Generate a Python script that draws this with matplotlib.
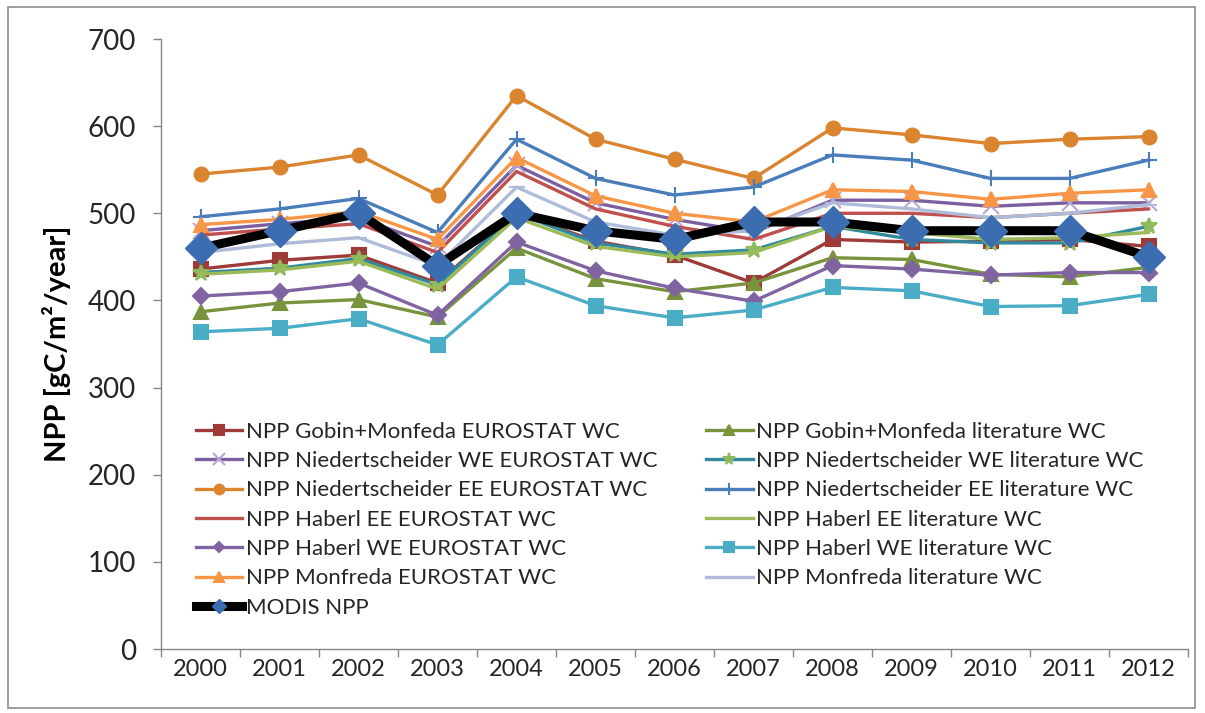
import numpy as np
import matplotlib
matplotlib.use('Agg')
import matplotlib.pyplot as plt
from matplotlib.patches import Rectangle

plt.rcParams['font.family'] = ['Lato', 'DejaVu Sans']

years = ['2000', '2001', '2002', '2003', '2004', '2005', '2006',
         '2007', '2008', '2009', '2010', '2011', '2012']

gobin_eurostat = [436, 446, 452, 420, 500, 468, 452, 420, 470, 467, 468, 470, 462]
gobin_lit = [387, 397, 401, 381, 460, 425, 410, 420, 449, 447, 430, 427, 438]
nied_we_eurostat = [480, 488, 495, 462, 555, 512, 493, 478, 515, 515, 508, 512, 512]
nied_we_lit = [432, 437, 448, 418, 500, 466, 453, 458, 485, 470, 466, 466, 485]
nied_ee_eurostat = [545, 553, 567, 521, 635, 585, 562, 540, 598, 590, 580, 585, 588]
nied_ee_lit = [496, 505, 517, 478, 585, 540, 521, 530, 567, 561, 540, 540, 561]
haberl_ee_eurostat = [475, 482, 488, 455, 548, 505, 485, 470, 500, 500, 495, 500, 505]
haberl_ee_lit = [430, 435, 445, 413, 495, 462, 450, 455, 485, 478, 470, 472, 478]
haberl_we_eurostat = [405, 410, 420, 383, 467, 434, 414, 399, 440, 436, 429, 432, 432]
haberl_we_lit = [364, 368, 379, 349, 427, 394, 380, 389, 415, 411, 393, 394, 407]
monfreda_eurostat = [487, 493, 502, 470, 564, 520, 500, 490, 527, 525, 516, 523, 527]
monfreda_lit = [455, 465, 472, 440, 530, 490, 475, 480, 512, 505, 495, 500, 510]
modis = [460, 480, 500, 440, 500, 480, 470, 490, 490, 480, 480, 480, 450]

# (label, values, color, marker, marker color)
series = [
    ('NPP Gobin+Monfeda EUROSTAT WC', gobin_eurostat, '#9E3B38', 's', '#9E3B38'),
    ('NPP Gobin+Monfeda literature WC', gobin_lit, '#77933C', '^', '#77933C'),
    ('NPP Niedertscheider WE EUROSTAT WC', nied_we_eurostat, '#7B5FA0', 'x', '#B7A6D3'),
    ('NPP Niedertscheider WE literature WC', nied_we_lit, '#31899E', '*', '#8DBB5C'),
    ('NPP Niedertscheider EE EUROSTAT WC', nied_ee_eurostat, '#DB8430', 'o', '#DB8430'),
    ('NPP Niedertscheider EE literature WC', nied_ee_lit, '#4A7EBB', '+', '#4A7EBB'),
    ('NPP Haberl EE EUROSTAT WC', haberl_ee_eurostat, '#C0504D', None, None),
    ('NPP Haberl EE literature WC', haberl_ee_lit, '#9BBB59', None, None),
    ('NPP Haberl WE EUROSTAT WC', haberl_we_eurostat, '#8064A2', 'D', '#8064A2'),
    ('NPP Haberl WE literature WC', haberl_we_lit, '#4BACC6', 's', '#4BACC6'),
    ('NPP Monfreda EUROSTAT WC', monfreda_eurostat, '#F79646', '^', '#F79646'),
    ('NPP Monfreda literature WC', monfreda_lit, '#AFBCD9', '_', '#AFBCD9'),
]

fig = plt.figure(figsize=(12.05, 7.13), dpi=100)
ax = fig.add_axes([161 / 1205, 1 - 649 / 713, (1188 - 161) / 1205, (649 - 39) / 713])

x = np.arange(len(years))
handles = {}
for label, vals, col, mk, mcol in series:
    kw = dict(color=col, lw=2.4, label=label)
    if mk is not None:
        ms = 10
        if mk in ('x', '+', '*', '_'):
            ms = 12
        if mk == 'D':
            ms = 8
        kw.update(marker=mk, markersize=ms, markerfacecolor=mcol,
                  markeredgecolor=mcol, markeredgewidth=1.5)
    h, = ax.plot(x, vals, **kw)
    handles[label] = h

hm, = ax.plot(x, modis, color='black', lw=6.5, marker='D', markersize=16,
              markerfacecolor='#3C6DB0', markeredgecolor='#3C6DB0',
              label='MODIS NPP', zorder=5)

ax.set_xlim(-0.5, len(years) - 0.5)
ax.set_ylim(0, 700)
ax.set_yticks(np.arange(0, 701, 100))
ax.set_xticks(x)
ax.set_xticklabels(years)
ax.set_xticks(np.arange(-0.5, len(years), 1.0), minor=True)
ax.tick_params(axis='x', which='major', length=0, labelsize=17, pad=7, colors='#262626')
ax.tick_params(axis='x', which='minor', length=6, color='#868686', width=1)
ax.tick_params(axis='y', length=6, color='#868686', width=1, labelsize=20,
               pad=12, labelcolor='#262626')

for s in ['top', 'right']:
    ax.spines[s].set_visible(False)
for s in ['left', 'bottom']:
    ax.spines[s].set_color('#868686')
    ax.spines[s].set_linewidth(1)

ax.set_ylabel('NPP [gC/m²/year]', fontsize=21, fontweight='bold', labelpad=12)

order = [s[0] for s in series if 'EUROSTAT' in s[0]]
order2 = [s[0] for s in series if 'literature' in s[0]]
leg_handles = [handles[k] for k in order] + [hm] + [handles[k] for k in order2]
leg_labels = order + ['MODIS NPP'] + order2
leg = ax.legend(leg_handles, leg_labels, ncol=2, loc='upper left',
                bbox_to_anchor=(0.025, 0.387), frameon=False, fontsize=16,
                handlelength=2.1, handletextpad=0.15, labelspacing=0.42,
                columnspacing=2.2, borderaxespad=0, markerscale=0.7)
for t in leg.get_texts():
    t.set_color('#262626')
for lh, lab in zip(leg.legend_handles, leg_labels):
    if lab == 'MODIS NPP':
        lh.set_markersize(7)

fig.patches.append(Rectangle((8 / 1205, 1 - 708 / 713), (1195 - 8) / 1205, (708 - 7) / 713,
                             transform=fig.transFigure, fill=False,
                             edgecolor='#8C8C8C', lw=1.2))

fig.savefig('out.png', dpi=100)
